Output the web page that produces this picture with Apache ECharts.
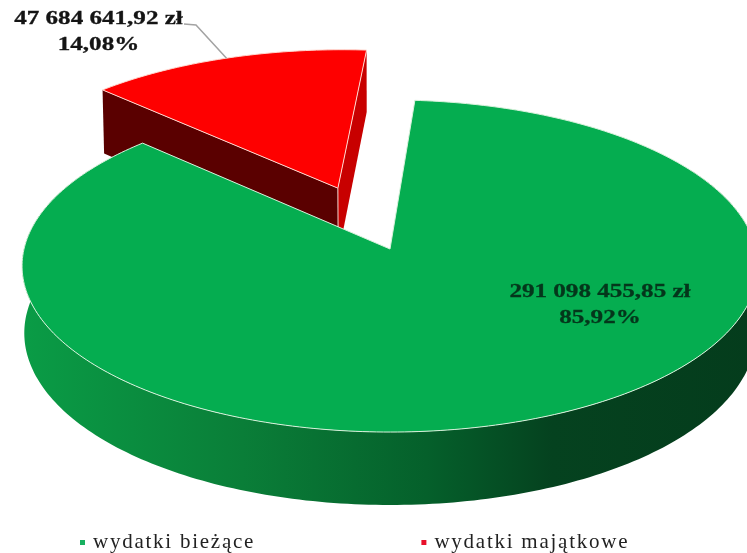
<!DOCTYPE html>
<html>
<head>
<meta charset="utf-8">
<style>
  html, body { margin: 0; padding: 0; background: #fff; }
  #chart { width: 747px; height: 553px; filter: blur(0.4px); }
</style>
</head>
<body>
<div id="chart"></div>
<script src="https://cdn.jsdelivr.net/npm/echarts@6/dist/echarts.min.js"></script>
<script>
const categories = ['wydatki bieżące', 'wydatki majątkowe']
const values = [291098455.85, 47684641.92]
const colors = ['#05ad50', '#fe0000']

// perspective of the tilted pie, worked out from the reference
const view = { x: 390, y: 249, rx: 366, ry: 164.3, k: 0.1024, m: 0.006 }
const greenDepth = 67
const redDepth = 70
const startAngle = 4.3 // degrees clockwise from the back of the pie
const redOffset = [-0.148, 0.385] // explosion of the small slice, pie radius = 1
const serif = '"Liberation Serif", "Times New Roman", serif'

const total = values.reduce((a, b) => a + b, 0)
const sweeps = values.map(v => v / total * 360)

function project (deg, off, depth) {
  const a = deg * Math.PI / 180
  return projectXY(Math.sin(a) + off[0], Math.cos(a) + off[1], depth)
}

function projectXY (X, Y, depth) {
  const s = 1 / (1 + view.k * Y + (depth ? view.m : 0))
  return [view.x + view.rx * X * s, view.y - view.ry * Y * s + depth * s]
}

function rim (from, to, off, depth) {
  const pts = []
  const n = Math.ceil(Math.abs(to - from))
  for (let i = 0; i <= n; i++) {
    pts.push(project(from + (to - from) * i / n, off, depth))
  }
  return pts
}

function money (v) {
  const parts = v.toFixed(2).split('.')
  return parts[0].replace(/\B(?=(\d{3})+$)/g, ' ') + ',' + parts[1] + ' zł'
}

function percent (v) {
  return (v / total * 100).toFixed(2).replace('.', ',') + '%'
}

function labelText (x, y, text, color) {
  return {
    type: 'text',
    x: x,
    y: y,
    scaleX: 1.32,
    style: {
      text: text,
      fill: color,
      stroke: color,
      lineWidth: 0.3,
      font: 'bold 19px ' + serif,
      align: 'center',
      verticalAlign: 'middle'
    }
  }
}

function renderGreen () {
  const off = [0, 0]
  const from = startAngle
  const to = startAngle + sweeps[0]
  const apex = projectXY(0, 0, 0)
  const wall = rim(60, 300, off, 0).concat(rim(60, 300, off, greenDepth).reverse())
  return {
    type: 'group',
    children: [
      {
        type: 'polygon',
        shape: { points: wall },
        style: {
          fill: new echarts.graphic.LinearGradient(0, 0, 1, 0, [
            { offset: 0, color: '#0a9c46' },
            { offset: 0.3, color: '#0a7e38' },
            { offset: 0.55, color: '#05602b' },
            { offset: 0.72, color: '#05421f' },
            { offset: 1, color: '#043c1c' }
          ])
        }
      },
      {
        type: 'polygon',
        shape: { points: [apex].concat(rim(from, to, off, 0)) },
        style: { fill: colors[0], stroke: '#d9f2dc', lineWidth: 1 }
      },
      labelText(600, 292, money(values[0]), '#04361b'),
      labelText(600, 318, percent(values[0]), '#04361b')
    ]
  }
}

function renderRed () {
  const from = startAngle + sweeps[0]
  const to = startAngle + 360
  const apex = projectXY(redOffset[0], redOffset[1], 0)
  const apexDown = projectXY(redOffset[0], redOffset[1], redDepth)
  const left = project(from, redOffset, 0)
  const leftDown = project(from, redOffset, redDepth)
  const right = project(to, redOffset, 0)
  const rightDown = project(to, redOffset, redDepth)
  const mid = project(from + sweeps[1] / 2, redOffset, 0)
  return {
    type: 'group',
    children: [
      { type: 'polygon', shape: { points: [right, apex, apexDown, rightDown] }, style: { fill: '#c80000' } },
      { type: 'polygon', shape: { points: [left, apex, apexDown, leftDown] }, style: { fill: '#5a0000' } },
      { type: 'line', shape: { x1: apex[0], y1: apex[1], x2: apexDown[0], y2: apexDown[1] }, style: { stroke: '#f4d8d0', lineWidth: 1 } },
      {
        type: 'polygon',
        shape: { points: [apex].concat(rim(from, to, redOffset, 0)) },
        style: { fill: colors[1], stroke: '#ffd9d0', lineWidth: 1 }
      },
      {
        type: 'polyline',
        shape: { points: [[184, 24], [196, 25], mid] },
        style: { fill: null, stroke: '#a3a3a3', lineWidth: 1.5 }
      },
      labelText(98.5, 19, money(values[1]), '#141414'),
      labelText(98.5, 45, percent(values[1]), '#141414')
    ]
  }
}

const chart = echarts.init(document.getElementById('chart'), null, { renderer: 'canvas' })
chart.setOption({
  animation: false,
  backgroundColor: '#fff',
  legend: {
    left: 80,
    top: 532,
    padding: 0,
    itemGap: 168,
    itemWidth: 5,
    itemHeight: 5,
    icon: 'rect',
    data: categories,
    // the reference legend is stretched, hair spaces widen it
    formatter: name => name.split('').join('\u200a'),
    textStyle: { fontFamily: serif, fontSize: 21, color: '#222', padding: [0, 0, 0, 3] }
  },
  series: [
    {
      type: 'custom',
      name: categories[1],
      coordinateSystem: 'none',
      z: 1,
      itemStyle: { color: '#e8102a' },
      data: [values[1]],
      renderItem: renderRed
    },
    {
      type: 'custom',
      name: categories[0],
      coordinateSystem: 'none',
      z: 2,
      itemStyle: { color: '#18b060' },
      data: [values[0]],
      renderItem: renderGreen
    }
  ]
})
</script>
</body>
</html>
